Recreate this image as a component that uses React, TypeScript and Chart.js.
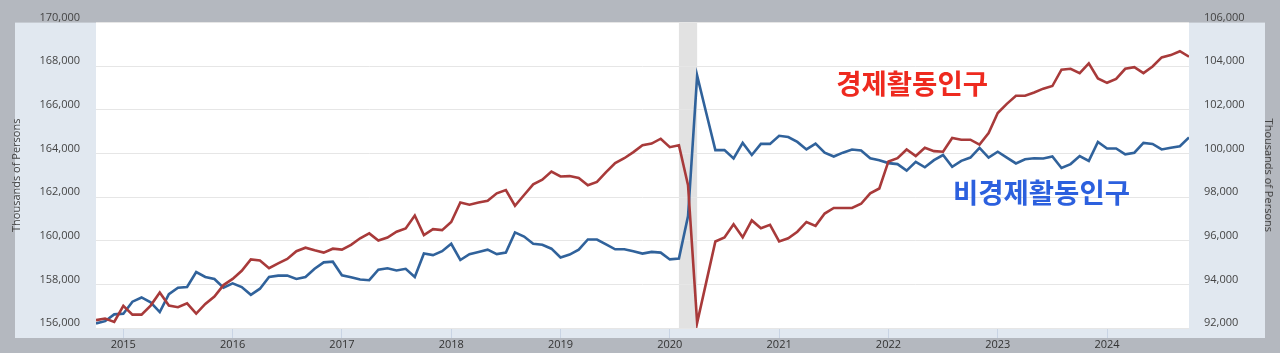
import React, { useEffect, useRef } from 'react';
import { Chart, registerables } from 'chart.js';

Chart.register(...registerables);

// Monthly categories: Oct 2014 .. Oct 2024
const START_YEAR = 2014;
const START_MONTH = 10;
const COUNT = 121;
const months: string[] = [];
for (let i = 0; i < COUNT; i++) {
  const m = START_MONTH - 1 + i;
  const y = START_YEAR + Math.floor(m / 12);
  const mm = (m % 12) + 1;
  months.push(`${y}-${mm < 10 ? '0' + mm : mm}`);
}

// 경제활동인구 (civilian labor force), thousands of persons — left axis
const laborForce = [
  156358, 156433, 156281, 157015, 156612, 156612, 157028, 157623, 157028, 156952,
  157131, 156657, 157104, 157444, 157968, 158249, 158625, 159144, 159099, 158741,
  158965, 159162, 159520, 159681, 159564, 159457, 159636, 159591, 159815, 160115,
  160338, 160012, 160146, 160414, 160562, 161157, 160262, 160531, 160486, 160862,
  161756, 161649, 161756, 161828, 162172, 162320, 161604, 162096, 162588, 162798,
  163170, 162946, 162964, 162874, 162544, 162696, 163143, 163559, 163783, 164064,
  164377, 164453, 164677, 164288, 164377, 162544, 156237, 158102, 159967, 160146,
  160754, 160159, 160933, 160575, 160727, 159967, 160115, 160414, 160862, 160683,
  161246, 161501, 161501, 161501, 161694, 162172, 162396, 163635, 163783, 164185,
  163885, 164261, 164109, 164082, 164708, 164632, 164632, 164409, 164932, 165854,
  166274, 166645, 166645, 166793, 166972, 167093, 167840, 167884, 167687, 168135,
  167437, 167240, 167419, 167884, 167956, 167687, 167987, 168403, 168510, 168689,
  168434,
];

// 비경제활동인구 (not in labor force), thousands of persons — right axis
const notInLaborForce = [
  92210, 92313, 92626, 92657, 93207, 93400, 93176, 92729, 93551, 93847,
  93878, 94563, 94339, 94249, 93847, 94044, 93878, 93520, 93802, 94339,
  94401, 94401, 94249, 94339, 94715, 95010, 95041, 94415, 94325, 94222,
  94191, 94670, 94741, 94639, 94715, 94339, 95412, 95341, 95520, 95860,
  95117, 95386, 95488, 95591, 95386, 95457, 96383, 96191, 95860, 95815,
  95636, 95234, 95368, 95591, 96057, 96057, 95833, 95609, 95609, 95520,
  95412, 95488, 95457, 95144, 95189, 97130, 103571, 101854, 100154, 100154,
  99769, 100485, 99930, 100440, 100440, 100811, 100753, 100530, 100185, 100453,
  100037, 99859, 100037, 100185, 100140, 99783, 99693, 99559, 99514, 99214,
  99617, 99367, 99693, 99930, 99393, 99662, 99814, 100261, 99814, 100082,
  99814, 99545, 99738, 99783, 99769, 99859, 99335, 99514, 99885, 99662,
  100530, 100230, 100230, 99961, 100037, 100485, 100440, 100185, 100261, 100333,
  100735,
];

const leftTicks = [156000, 158000, 160000, 162000, 164000, 166000, 168000, 170000];
const rightTicks = [92000, 94000, 96000, 98000, 100000, 102000, 104000, 106000];
const yearTicks = [2015, 2016, 2017, 2018, 2019, 2020, 2021, 2022, 2023, 2024];
const recession = ['2020-02', '2020-04'];

const labelLF = '경제활동인구';
const labelNILF = '비경제활동인구';

const tickFont = { family: '"Open Sans", "DejaVu Sans", sans-serif', size: 11 };

const backgroundPlugin = {
  id: 'fredBackground',
  beforeDraw(chart: any) {
    const { ctx, chartArea: a, width, height } = chart;
    ctx.save();
    ctx.fillStyle = '#b4b8bf';
    ctx.fillRect(0, 0, width, height);
    ctx.fillStyle = '#e1e8f0';
    ctx.fillRect(15, a.top, width - 30, a.bottom - a.top + 10);
    ctx.fillStyle = '#ffffff';
    ctx.fillRect(a.left, a.top, a.right - a.left, a.bottom - a.top);
    const xs = chart.scales.x;
    const x0 = xs.getPixelForValue(months.indexOf(recession[0]));
    const x1 = xs.getPixelForValue(months.indexOf(recession[1]));
    ctx.fillStyle = '#e2e2e2';
    ctx.fillRect(x0, a.top, x1 - x0, a.bottom - a.top);
    ctx.restore();
  },
};

const annotationPlugin = {
  id: 'seriesLabels',
  afterDatasetsDraw(chart: any) {
    const { ctx } = chart;
    const xs = chart.scales.x;
    const yl = chart.scales.y;
    const yr = chart.scales.y1;
    ctx.save();
    ctx.font = 'bold 27.5px "Noto Sans CJK KR", sans-serif';
    ctx.textAlign = 'center';
    ctx.textBaseline = 'middle';
    ctx.fillStyle = '#ee2a1f';
    ctx.fillText(labelLF, xs.getPixelForValue(89.6), yl.getPixelForValue(167200));
    ctx.fillStyle = '#2c60de';
    ctx.fillText(labelNILF, xs.getPixelForValue(103.8), yr.getPixelForValue(98200));
    ctx.restore();
  },
};

export default function App() {
  const canvasRef = useRef<HTMLCanvasElement | null>(null);

  useEffect(() => {
    document.body.style.margin = '0';
    const canvas = canvasRef.current;
    if (!canvas) return;
    const chart = new Chart(canvas, {
      type: 'line',
      data: {
        datasets: [
          {
            label: labelLF,
            data: laborForce.map((v, i) => ({ x: i, y: v })),
            yAxisID: 'y',
            borderColor: '#a83a3a',
            borderWidth: 2.6,
            pointRadius: 0,
            tension: 0,
          },
          {
            label: labelNILF,
            data: notInLaborForce.map((v, i) => ({ x: i, y: v })),
            yAxisID: 'y1',
            borderColor: '#30629b',
            borderWidth: 2.6,
            pointRadius: 0,
            tension: 0,
          },
        ],
      },
      options: {
        animation: false,
        responsive: false,
        devicePixelRatio: 1,
        layout: { padding: { top: 15, left: 0, right: 0, bottom: 0 } },
        plugins: {
          legend: { display: false },
          tooltip: { enabled: false },
        },
        scales: {
          x: {
            type: 'linear',
            min: 0,
            max: months.length - 1,
            afterBuildTicks: (s: any) => {
              s.ticks = yearTicks.map((y) => ({ value: months.indexOf(`${y}-01`) }));
            },
            afterFit: (s: any) => {
              s.height = 25;
            },
            ticks: {
              autoSkip: false,
              maxRotation: 0,
              padding: 0,
              font: tickFont,
              color: '#333333',
              callback: (v: any) => months[v as number].slice(0, 4),
            },
            grid: {
              drawOnChartArea: false,
              drawTicks: true,
              tickLength: 10,
              tickColor: '#c9d4e4',
              color: '#c9d4e4',
            },
            border: { display: false },
          },
          y: {
            position: 'left',
            min: leftTicks[0],
            max: leftTicks[leftTicks.length - 1],
            afterBuildTicks: (s: any) => {
              s.ticks = leftTicks.map((v) => ({ value: v }));
            },
            afterFit: (s: any) => {
              s.width = 96;
            },
            ticks: {
              padding: 16,
              labelOffset: -5,
              font: tickFont,
              color: '#444444',
              callback: (v: any) => Number(v).toLocaleString('en-US'),
            },
            grid: { color: '#e6e6e6', drawTicks: false },
            border: { display: false },
            title: {
              display: true,
              text: 'Thousands of Persons',
              font: tickFont,
              color: '#444444',
              padding: { top: 10, bottom: 0 },
            },
          },
          y1: {
            position: 'right',
            min: rightTicks[0],
            max: rightTicks[rightTicks.length - 1],
            afterBuildTicks: (s: any) => {
              s.ticks = rightTicks.map((v) => ({ value: v }));
            },
            afterFit: (s: any) => {
              s.width = 91;
            },
            ticks: {
              padding: 15,
              labelOffset: -5,
              font: tickFont,
              color: '#444444',
              callback: (v: any) => Number(v).toLocaleString('en-US'),
            },
            grid: { display: false, drawTicks: false },
            border: { display: false },
            title: {
              display: true,
              text: 'Thousands of Persons',
              font: tickFont,
              color: '#444444',
              padding: { top: 5, bottom: 0 },
            },
          },
        },
      },
      plugins: [backgroundPlugin, annotationPlugin],
    } as any);
    return () => chart.destroy();
  }, []);

  return (
    <div style={{ width: 1280, height: 353 }}>
      <canvas ref={canvasRef} width={1280} height={353} style={{ display: 'block' }} />
    </div>
  );
}
